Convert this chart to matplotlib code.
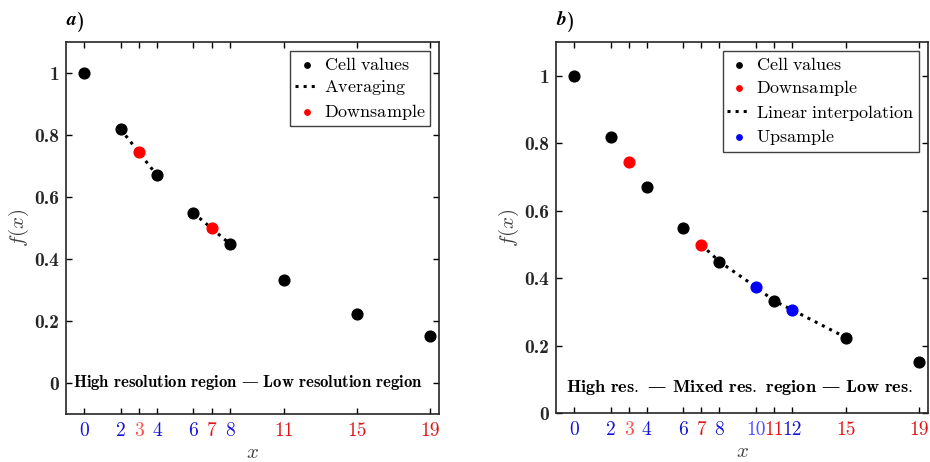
import numpy as np
import matplotlib
matplotlib.use("Agg")
import matplotlib.pyplot as plt

plt.rcParams['mathtext.fontset'] = 'cm'
plt.rcParams['font.family'] = ['DejaVu Serif']

# cell values (both panels)
cell_x = [0, 2, 4, 6, 8, 11, 15, 19]
cell_y = [1.0, 0.819, 0.670, 0.549, 0.449, 0.333, 0.223, 0.150]

# panel a: averaging / downsample
avg_segments = [([2, 4], [0.819, 0.670]), ([6, 8], [0.549, 0.449])]
down_x_a = [3, 7]
down_y_a = [0.744, 0.499]

# panel b
down_x_b = [3, 7]
down_y_b = [0.744, 0.499]
interp_x = [7, 8, 10, 11, 12, 15]
interp_y = [0.499, 0.449, 0.374, 0.333, 0.306, 0.223]
up_x = [10, 12]
up_y = [0.374, 0.306]

yticks = [0, 0.2, 0.4, 0.6, 0.8, 1]
ytick_labels = ['0', '0.2', '0.4', '0.6', '0.8', '1']

blue = '#1414d8'
lblue = '#5050ff'
red = '#e01414'
lred = '#ff5050'
xticks_a = [0, 2, 3, 4, 6, 7, 8, 11, 15, 19]
xcols_a = [blue, blue, lred, blue, blue, red, blue, red, red, red]
xticks_b = [0, 2, 3, 4, 6, 7, 8, 10, 11, 12, 15, 19]
xcols_b = [blue, blue, lred, blue, blue, red, blue, lblue, red, blue, red, red]

fig = plt.figure(figsize=(9.3, 4.62), dpi=100)
ax1 = fig.add_axes([0.071, 0.104, 0.401, 0.805])
ax2 = fig.add_axes([0.598, 0.106, 0.400, 0.803])

def style(ax, ticks, cols, ylim):
    ax.set_xlim(-1, 19.5)
    ax.set_ylim(*ylim)
    ax.set_xticks(ticks)
    ax.set_xticklabels(ticks, fontsize=14, family='cmr10')
    for lab, c in zip(ax.get_xticklabels(), cols):
        lab.set_color(c)
    ax.tick_params(axis='x', direction='in', top=True, length=4, width=1, pad=6)
    for tl, c in zip(ax.xaxis.get_ticklines(), np.repeat(cols, 2)):
        tl.set_color(c)
    ax.set_yticks(yticks)
    ax.set_yticklabels(ytick_labels, fontsize=14, color='#262626', family='cmb10')
    ax.tick_params(axis='y', direction='in', right=True, length=4, width=1, pad=5)
    for sp in ax.spines.values():
        sp.set_color('#262626')
        sp.set_linewidth(1.2)
    ax.set_xlabel('$x$', fontsize=15, color='#404040', labelpad=2)
    ax.set_ylabel('$f(x)$', fontsize=15, color='#404040', labelpad=2)

# ---- panel a
ax1.scatter(cell_x, cell_y, s=60, color='black', zorder=3, label=r'$\mathrm{Cell\ values}$')
for i, (sx, sy) in enumerate(avg_segments):
    ax1.plot(sx, sy, ':', color='black', lw=2.2, zorder=2,
             label=r'$\mathrm{Averaging}$' if i == 0 else None)
ax1.scatter(down_x_a, down_y_a, s=60, color='red', zorder=4, label=r'$\mathrm{Downsample}$')
style(ax1, xticks_a, xcols_a, (-0.1, 1.1))
ax1.text(9.0, 0.0, r'$\mathbf{High\ resolution\ region}$ — $\mathbf{Low\ resolution\ region}$',
         ha='center', va='center', fontsize=12)
leg = ax1.legend(loc='upper right', fontsize=13, frameon=True, fancybox=False,
                 edgecolor='#404040', framealpha=1, handlelength=1.3, handletextpad=0.3,
                 borderpad=0.25, labelspacing=0.25, markerscale=0.5, borderaxespad=0.5)
leg.get_frame().set_linewidth(1)

# ---- panel b
ax2.scatter(cell_x, cell_y, s=60, color='black', zorder=3, label=r'$\mathrm{Cell\ values}$')
ax2.scatter(down_x_b, down_y_b, s=60, color='red', zorder=4, label=r'$\mathrm{Downsample}$')
ax2.plot(interp_x, interp_y, ':', color='black', lw=2.2, zorder=2,
         label=r'$\mathrm{Linear\ interpolation}$')
ax2.scatter(up_x, up_y, s=60, color='blue', zorder=4, label=r'$\mathrm{Upsample}$')
style(ax2, xticks_b, xcols_b, (0, 1.1))
ax2.text(9.1, 0.077, r'$\mathbf{High\ res.}$ — $\mathbf{Mixed\ res.\ region}$ — $\mathbf{Low\ res.}$',
         ha='center', va='center', fontsize=13.2)
leg = ax2.legend(loc='upper right', fontsize=13, frameon=True, fancybox=False,
                 edgecolor='#404040', framealpha=1, handlelength=1.3, handletextpad=0.3,
                 borderpad=0.25, labelspacing=0.25, markerscale=0.5, borderaxespad=0.5)
leg.get_frame().set_linewidth(1)

# panel titles: bold italic letter + bold parenthesis
for ax, letter in [(ax1, 'a'), (ax2, 'b')]:
    t = ax.set_title(r'$\boldsymbol{%s}$' % letter, loc='left', fontsize=14, pad=12)
    ax.annotate(')', xy=(1, 0), xycoords=t, xytext=(-0.5, -2.0), textcoords='offset points',
                fontsize=14, family='cmb10', ha='left', va='bottom')

fig.savefig('out.png', dpi=100)
